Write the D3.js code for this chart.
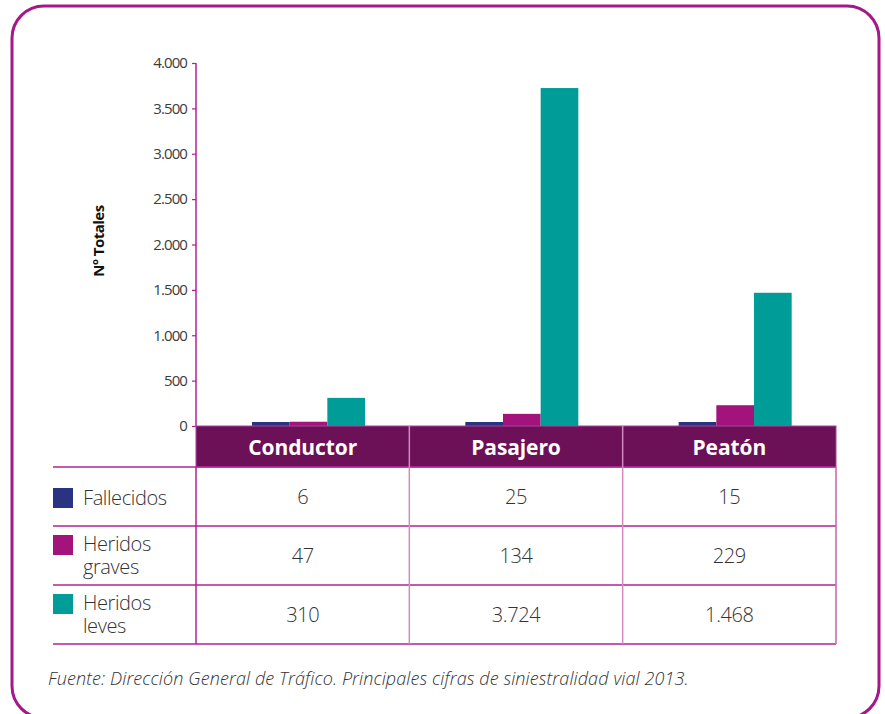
<!DOCTYPE html>
<html>
<head>
<meta charset="utf-8">
<script src="https://cdn.jsdelivr.net/npm/d3@7"></script>
<style>
  body { margin: 0; background: #fff; }
  svg { display: block; font-family: "Open Sans", sans-serif; }
</style>
</head>
<body>
<script>
var categories = ['Conductor', 'Pasajero', 'Peatón'];
var seriesNames = ['Fallecidos', 'Heridos graves', 'Heridos leves'];
var seriesLabels = [['Fallecidos'], ['Heridos', 'graves'], ['Heridos', 'leves']];
var fallecidos = [6, 25, 15];
var heridosGraves = [47, 134, 229];
var heridosLeves = [310, 3724, 1468];
var yTicks = [0, 500, 1000, 1500, 2000, 2500, 3000, 3500, 4000];
var sourceText = 'Fuente: Dirección General de Tráfico. Principales cifras de siniestralidad vial 2013.';

var seriesValues = [fallecidos, heridosGraves, heridosLeves];
var colors = ['#293381', '#a3137c', '#009c98'];

var width = 885;
var height = 714;
var magenta = '#b0238f';
var gridPink = '#d48ac0';

var es = d3.formatLocale({ decimal: ',', thousands: '.', grouping: [3], currency: ['', ' €'] });
var fmt = es.format(',d');

var plotLeft = 196;
var plotRight = 836;
var plotTop = 63;
var plotBottom = 426;
var headerBottom = 467;
var rowH = 59;
var tableLeft = 53;

var svg = d3.select('body').append('svg')
  .attr('width', width)
  .attr('height', height);

// outer frame (bottom edge runs off the page)
svg.append('rect')
  .attr('x', 12).attr('y', 6)
  .attr('width', 867).attr('height', 712)
  .attr('rx', 32).attr('ry', 32)
  .attr('fill', 'none')
  .attr('stroke', '#a5178a')
  .attr('stroke-width', 3);

var x0 = d3.scaleBand()
  .domain(categories)
  .range([plotLeft, plotRight]);

var x1 = d3.scaleBand()
  .domain(seriesNames)
  .range([56, 169]);

var y = d3.scaleLinear()
  .domain([0, 4000])
  .range([plotBottom, plotTop]);

// bars
var groups = svg.append('g').selectAll('g')
  .data(categories)
  .join('g')
  .attr('transform', function(d) { return 'translate(' + x0(d) + ',0)'; });

groups.selectAll('rect')
  .data(function(d, i) {
    return seriesNames.map(function(s, j) {
      return { series: s, value: seriesValues[j][i], color: colors[j] };
    });
  })
  .join('rect')
  .attr('x', function(d) { return x1(d.series); })
  .attr('width', x1.bandwidth())
  .attr('y', function(d) { return Math.min(y(d.value), plotBottom - 4); })
  .attr('height', function(d) { return Math.max(plotBottom - y(d.value), 4); })
  .attr('fill', function(d) { return d.color; });

// y axis
var yAxis = svg.append('g')
  .attr('transform', 'translate(' + plotLeft + ',0)')
  .call(d3.axisLeft(y).tickValues(yTicks).tickFormat(fmt).tickSize(4).tickPadding(5));

yAxis.select('.domain').attr('stroke', magenta).attr('stroke-width', 1.5)
  .attr('d', 'M0,' + plotTop + 'V' + plotBottom);
yAxis.selectAll('.tick line').attr('stroke', magenta).attr('stroke-width', 1.2);
yAxis.selectAll('.tick text')
  .attr('fill', '#3c3c3c')
  .style('font-size', '15px')
  .style('letter-spacing', '-0.9px')
  .style('font-family', '"Open Sans", sans-serif');

svg.append('text')
  .attr('transform', 'translate(104,241) rotate(-90)')
  .attr('text-anchor', 'middle')
  .style('font-size', '15px')
  .style('font-weight', 'bold')
  .style('letter-spacing', '-0.5px')
  .attr('fill', '#111')
  .text('Nº Totales');

// header band
svg.append('rect')
  .attr('x', plotLeft).attr('y', plotBottom)
  .attr('width', plotRight - plotLeft).attr('height', headerBottom - plotBottom)
  .attr('fill', '#6c1058')
  .attr('stroke', '#a8479a')
  .attr('stroke-width', 1);

svg.append('g').selectAll('text')
  .data(categories)
  .join('text')
  .attr('x', function(d) { return x0(d) + x0.bandwidth() / 2; })
  .attr('y', 455)
  .attr('text-anchor', 'middle')
  .attr('fill', '#fff')
  .style('font-size', '21px')
  .style('font-weight', 'bold')
  .style('letter-spacing', '-0.1px')
  .text(function(d) { return d; });

// table grid
var grid = svg.append('g');
d3.range(4).forEach(function(r) {
  grid.append('line')
    .attr('x1', tableLeft).attr('x2', plotRight)
    .attr('y1', headerBottom + r * rowH).attr('y2', headerBottom + r * rowH)
    .attr('stroke', magenta).attr('stroke-width', 1.5);
});
grid.append('line')
  .attr('x1', plotLeft).attr('x2', plotLeft)
  .attr('y1', headerBottom).attr('y2', headerBottom + 3 * rowH)
  .attr('stroke', magenta).attr('stroke-width', 1.5);
categories.slice(1).forEach(function(c) {
  grid.append('line')
    .attr('x1', x0(c)).attr('x2', x0(c))
    .attr('y1', plotBottom).attr('y2', headerBottom + 3 * rowH)
    .attr('stroke', gridPink).attr('stroke-width', 1.5);
});
grid.append('line')
  .attr('x1', plotRight).attr('x2', plotRight)
  .attr('y1', headerBottom).attr('y2', headerBottom + 3 * rowH)
  .attr('stroke', '#c565ad').attr('stroke-width', 1.5);

// legend rows
var rows = svg.append('g').selectAll('g')
  .data(seriesNames)
  .join('g')
  .attr('transform', function(d, i) { return 'translate(0,' + (headerBottom + i * rowH) + ')'; });

rows.append('rect')
  .attr('x', tableLeft).attr('width', 20).attr('height', 20)
  .attr('y', function(d, i) { return i === 0 ? 21 : 9; })
  .attr('fill', function(d, i) { return colors[i]; });

rows.append('text')
  .attr('x', 83)
  .attr('fill', '#333')
  .style('font-size', '20px')
  .style('font-weight', 300)
  .style('letter-spacing', '-0.4px')
  .each(function(d, i) {
    var t = d3.select(this);
    var lines = seriesLabels[i];
    lines.forEach(function(l, k) {
      t.append('tspan')
        .attr('x', 83)
        .attr('y', lines.length === 1 ? 38 : 25 + k * 23)
        .text(l);
    });
  });

rows.each(function(d, i) {
  d3.select(this).selectAll('.val')
    .data(seriesValues[i])
    .join('text')
    .attr('class', 'val')
    .attr('x', function(v, k) { return x0(categories[k]) + x0.bandwidth() / 2; })
    .attr('y', 37)
    .attr('text-anchor', 'middle')
    .attr('fill', '#333')
    .style('font-size', '20px')
    .style('font-weight', 300)
    .style('letter-spacing', '-0.4px')
    .text(function(v) { return fmt(v); });
});

// source
svg.append('text')
  .attr('x', 48).attr('y', 685)
  .attr('fill', '#333')
  .style('font-size', '18px')
  .style('font-style', 'italic')
  .style('font-weight', 300)
  .style('letter-spacing', '0.1px')
  .text(sourceText);
</script>
</body>
</html>
